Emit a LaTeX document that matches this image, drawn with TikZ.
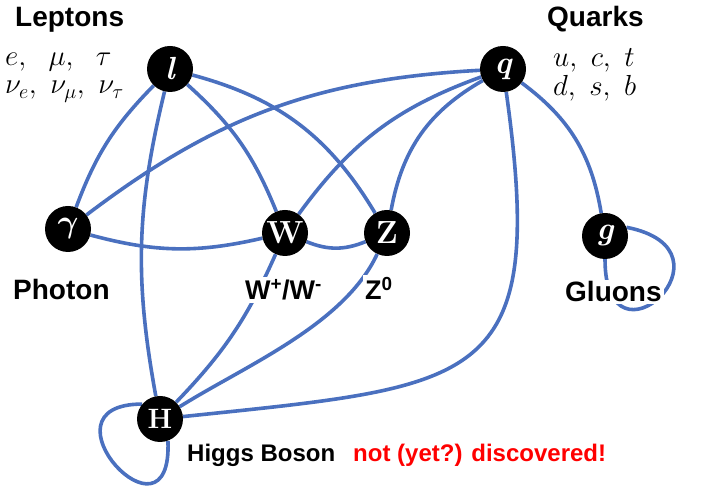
\RequirePackage{fix-cm}
\documentclass[tikz,border=0pt]{standalone}
\usepackage{fontspec}
\usepackage{bm}
\usetikzlibrary{backgrounds}
\newfontfamily\labfont{Liberation Sans}
\definecolor{smblue}{HTML}{4A70BF}
\definecolor{smred}{HTML}{FF0000}

\begin{document}
\begin{tikzpicture}[x=1pt, y=1pt,
  particle/.style={circle, fill=black, minimum size=46pt, inner sep=0pt, text=white,
    font=\fontsize{32}{32}\selectfont\bfseries},
  family/.style={font=\labfont\bfseries\fontsize{28}{30}\selectfont, anchor=base west, inner sep=0pt},
  boson/.style={font=\labfont\bfseries\fontsize{27}{30}\selectfont, anchor=base west, fill=white, inner sep=2pt},
  higgslab/.style={font=\labfont\bfseries\fontsize{24}{28}\selectfont, anchor=base west, inner sep=0pt},
  members/.style={font=\fontsize{29}{29}\selectfont, anchor=base west, inner sep=0pt},
  coupling/.style={smblue, line width=3.6pt}]
  \useasboundingbox (0,0) rectangle (702,486);

  % Particles
  \node[particle] (lep) at (170,417) {\itshape l};
  \node[particle] (qrk) at (503,417) {\itshape q};
  \node[particle] (pho) at (68,257) {$\bm{\gamma}$};
  \node[particle] (wbo) at (285,253) {W};
  \node[particle] (zbo) at (387,253) {Z};
  \node[particle] (glu) at (605,250) {\itshape g};
  \node[particle, font=\fontsize{28}{28}\selectfont\bfseries] (hig) at (160,67) {H};

  % Families
  \node[family] (leptons) at (15,459) {Leptons};
  \node[family] (quarks) at (547,459) {Quarks};
  \node[members] (lepA) at (5,420) {$e,\ \ \mu,\ \ \tau$};
  \node[members] (lepB) at (5,392) {$\nu_e,\ \nu_\mu,\ \nu_\tau$};
  \node[members] (qrkA) at (553,419) {$u,\ c,\ t$};
  \node[members] (qrkB) at (553,390) {$d,\ s,\ b$};

  % Bosons
  \node[family] (photon) at (13,186) {Photon};
  \node[boson] (wlab) at (243,186) {W\textsuperscript{+}/W\textsuperscript{-}};
  \node[boson] (zlab) at (363,186) {Z\textsuperscript{0}};
  \node[family, fill=white, inner sep=2pt] (gluons) at (563,184) {Gluons};
  \node[higgslab] (higgs) at (187,24) {Higgs Boson};
  \node[higgslab, text=smred] (note) at (353,24) {not (yet?) discovered!};

  % Couplings
  \begin{scope}[on background layer]
    \draw[coupling] (lep) to[bend right=12] (pho);
    \draw[coupling] (lep) to[bend right=12] (hig);
    \draw[coupling] (lep) to[bend left=13] (wbo);
    \draw[coupling] (lep) to[bend left=22] (zbo);
    \draw[coupling] (qrk) to[bend right=17] (pho);
    \draw[coupling] (qrk) to[bend right=17] (wbo);
    \draw[coupling] (qrk) to[bend right=25] (zbo);
    \draw[coupling] (qrk) to[bend left=22] (glu);
    \draw[coupling] (qrk) to[out=-82, in=6, looseness=1.67] (hig);
    \draw[coupling] (pho) to[bend right=14] (wbo);
    \draw[coupling] (wbo) to[bend right=22] (zbo);
    \draw[coupling] (wbo) to[bend left=10] (hig);
    \draw[coupling] (zbo) to[out=-115, in=32, looseness=0.8] (hig);
    % self couplings
    \draw[coupling] (glu.south) .. controls +(0,-120) and +(118,-23) .. (glu.22);
    \draw[coupling] (hig.140) .. controls +(-110,0) and +(5,-115) .. (hig.-70);
  \end{scope}
\end{tikzpicture}
\end{document}
